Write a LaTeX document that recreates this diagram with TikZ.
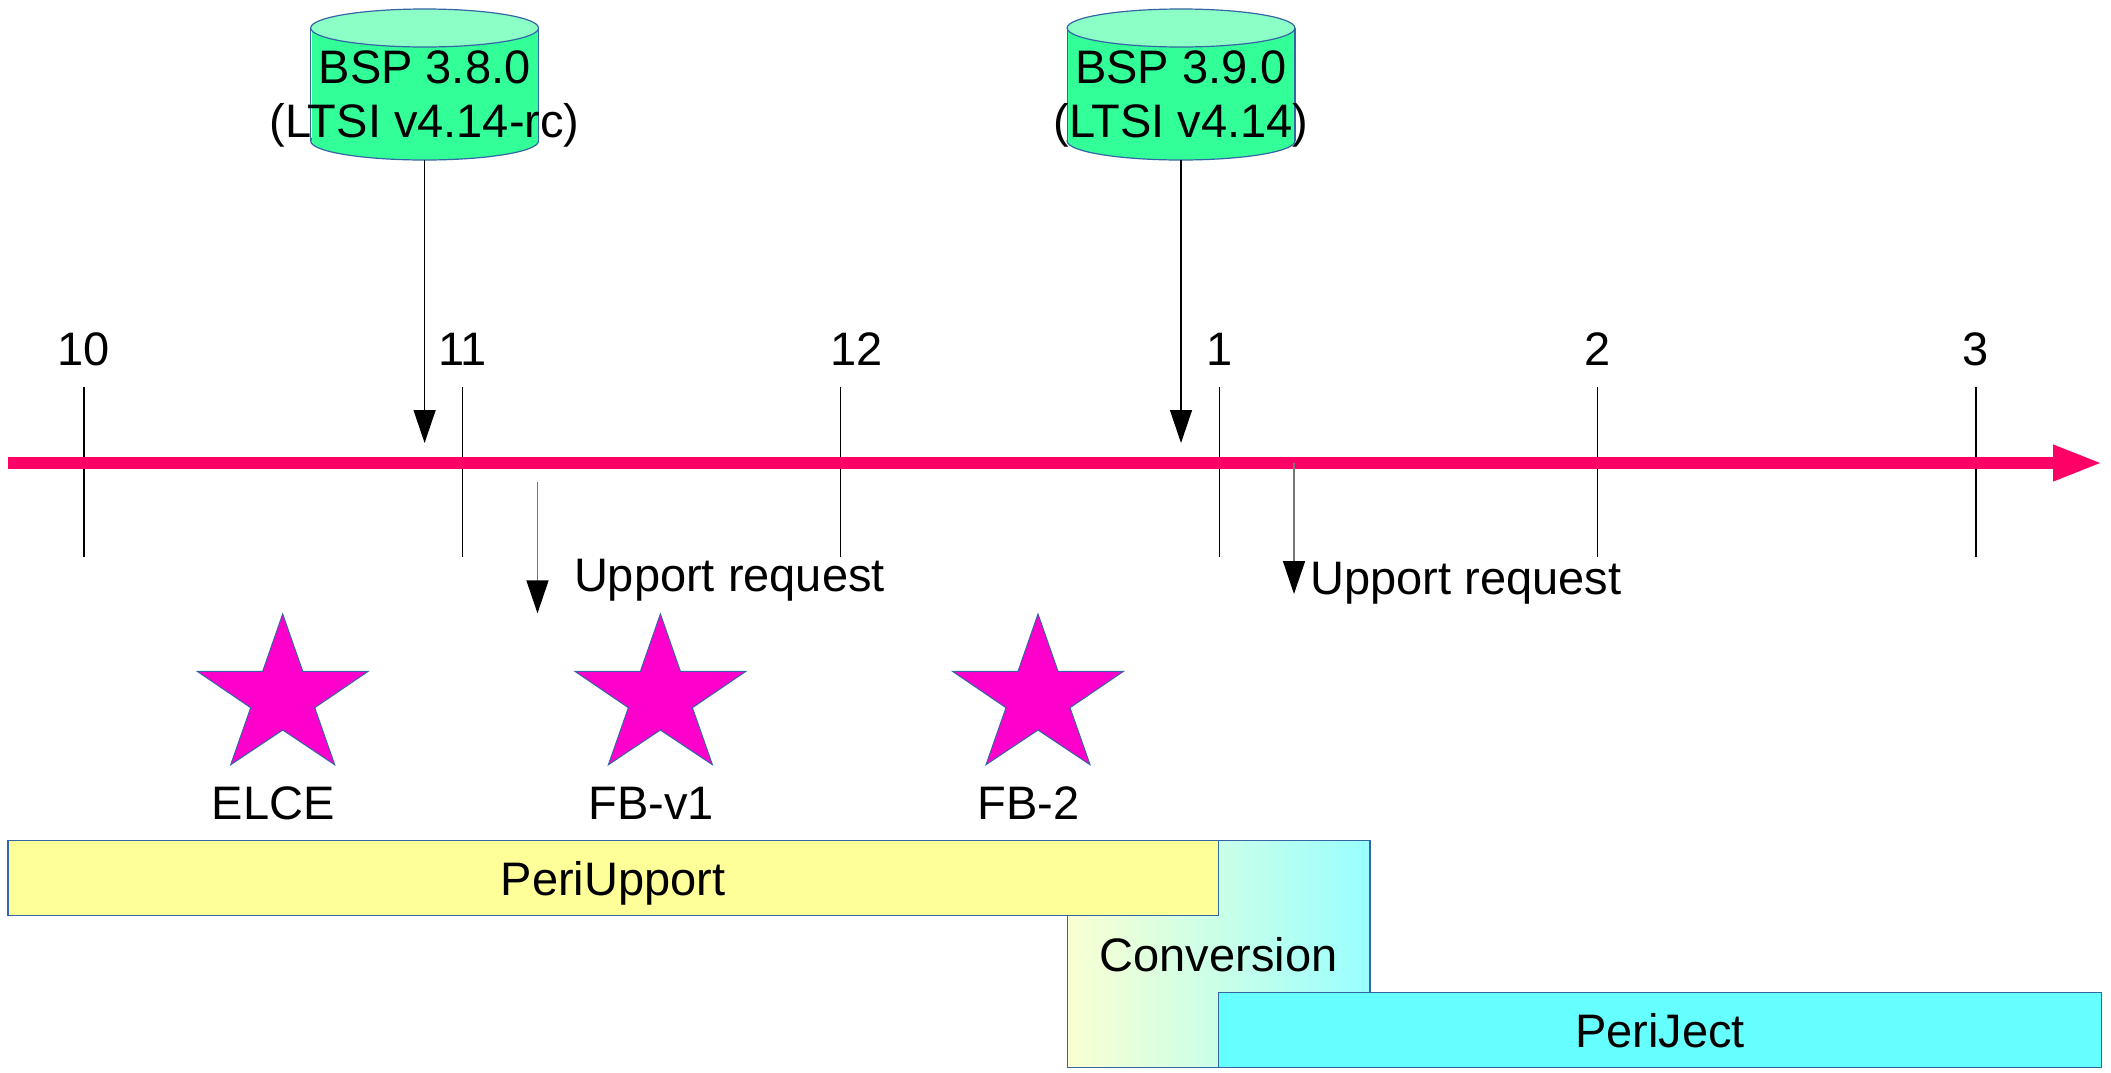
\documentclass[tikz,border=0pt]{standalone}
\usepackage{fontspec}
\setmainfont{Liberation Sans}
\usetikzlibrary{arrows.meta}
\definecolor{axisc}{HTML}{FF0066}
\definecolor{outl}{HTML}{3465A4}
\definecolor{cylbody}{HTML}{33FF99}
\definecolor{cyltop}{HTML}{8CFFC6}
\definecolor{starc}{HTML}{FF00CC}
\definecolor{upc}{HTML}{FFFF99}
\definecolor{jectc}{HTML}{66FFFF}
\definecolor{convl}{HTML}{FAFFD2}
\definecolor{convr}{HTML}{99FFFF}
\definecolor{reqc}{HTML}{777777}
\begin{document}
\begin{tikzpicture}[x=1pt,y=-1pt,
  lbl/.style={font=\fontsize{47}{54}\selectfont, inner sep=0pt, outer sep=0pt},
  tickline/.style={line width=1.3pt, black},
  ptr/.style={line width=1.3pt, black, -{Triangle[width=22pt,length=33pt]}},
  reqptr/.style={line width=1.5pt, reqc, -{Triangle[width=22pt,length=33pt,color=black]}},
  bar/.style={draw=outl, line width=1.2pt, inner sep=0pt, outer sep=0pt, text height=35pt, text depth=0pt, font=\fontsize{47}{54}\selectfont},
  starshape/.style={fill=starc, draw=outl, line width=1pt, line join=miter}
]
\useasboundingbox (0,0) rectangle (2111,1072);

% ---------- cylinders ----------
\foreach \cx/\lx/\rx in {424.6/310.7/538.5, 1181/1067.3/1295}{
  \filldraw[fill=cylbody, draw=outl, line width=1.2pt] (\cx,141) ellipse [x radius=113.9, y radius=19];
  \fill[cylbody] (\lx+0.8,28) rectangle (\rx-0.8,141);
  \draw[outl, line width=1.2pt] (\lx,28) -- (\lx,141) (\rx,28) -- (\rx,141);
  \filldraw[fill=cyltop, draw=outl, line width=1.2pt] (\cx,28) ellipse [x radius=113.9, y radius=19];
}
\node[lbl, anchor=base] (bspa1) at (424.6,83) {BSP 3.8.0};
\node[lbl, anchor=base] (bspa2) at (424.6,137.5) {(LTSI v4.14-rc)};
\node[lbl, anchor=base] (bspb1) at (1181,83) {BSP 3.9.0};
\node[lbl, anchor=base] (bspb2) at (1181,137.5) {(LTSI v4.14)};
\coordinate (cylA) at (424.6,160);
\coordinate (cylB) at (1181,160);

% ---------- ticks ----------
\foreach \tx/\nm in {84/t10, 462.4/t11, 840.8/t12, 1219.2/t1, 1597.6/t2, 1976/t3}{
  \coordinate (\nm top) at (\tx,387);
  \coordinate (\nm bot) at (\tx,557);
  \draw[tickline] (\nm top) -- (\nm bot);
}
\node[lbl, anchor=base] (l10) at (84,365.5) {10};
\node[lbl, anchor=base] (l11) at (462.4,365.5) {11};
\node[lbl, anchor=base west] (l12) at (830,365.5) {12};
\node[lbl, anchor=base] (l1) at (1219.2,365.5) {1};
\node[lbl, anchor=base] (l2) at (1597.6,365.5) {2};
\node[lbl, anchor=base] (l3) at (1976,365.5) {3};

% ---------- axis ----------
\coordinate (axs) at (8,463);
\coordinate (axe) at (2103,463);
\draw[line width=12.3pt, axisc, -{Triangle[width=33pt,length=50pt]}] (axs) -- (axe);

% ---------- release arrows ----------
\coordinate (tipA) at (424.6,443);
\coordinate (tipB) at (1181,443);
\draw[ptr] (cylA) -- (tipA);
\draw[ptr] (cylB) -- (tipB);

% ---------- upport requests ----------
\coordinate (rqAs) at (537.5,481.7);
\coordinate (rqAe) at (537.5,613.3);
\coordinate (rqBs) at (1294,462.7);
\coordinate (rqBe) at (1294,594);
\draw[reqptr] (rqAs) -- (rqAe);
\draw[reqptr] (rqBs) -- (rqBe);
\node[lbl, anchor=base west] (reqA) at (574,591.7) {Upport request};
\node[lbl, anchor=base west] (reqB) at (1310.5,594) {Upport request};

% ---------- stars ----------
\foreach \cx in {282.7, 660.4, 1038}{
  \begin{scope}[shift={(\cx,614)}]
    \filldraw[starshape] (0,0) -- (20,57.3) -- (85.5,57.3) -- (32,93.7) -- (52,150.7)
      -- (0,116) -- (-52,150.7) -- (-32,93.7) -- (-85.5,57.3) -- (-20,57.3) -- cycle;
  \end{scope}
}
\node[lbl, anchor=base] (elce) at (273.2,819) {ELCE};
\node[lbl, anchor=base] (fbv1) at (651,819) {FB-v1};
\node[lbl, anchor=base] (fb2) at (1028.5,819) {FB-2};

% ---------- bars ----------
\node[bar, left color=convl, right color=convr, anchor=north west,
      minimum width=302.7pt, minimum height=226.6pt] (conv) at (1067.3,840.7) {Conversion};
\node[bar, fill=upc, anchor=north west,
      minimum width=1210.3pt, minimum height=75pt] (peri) at (8,840.7) {PeriUpport};
\node[bar, fill=jectc, anchor=north west,
      minimum width=883.3pt, minimum height=75pt] (ject) at (1218.3,992.3) {PeriJect};
\end{tikzpicture}
\end{document}
